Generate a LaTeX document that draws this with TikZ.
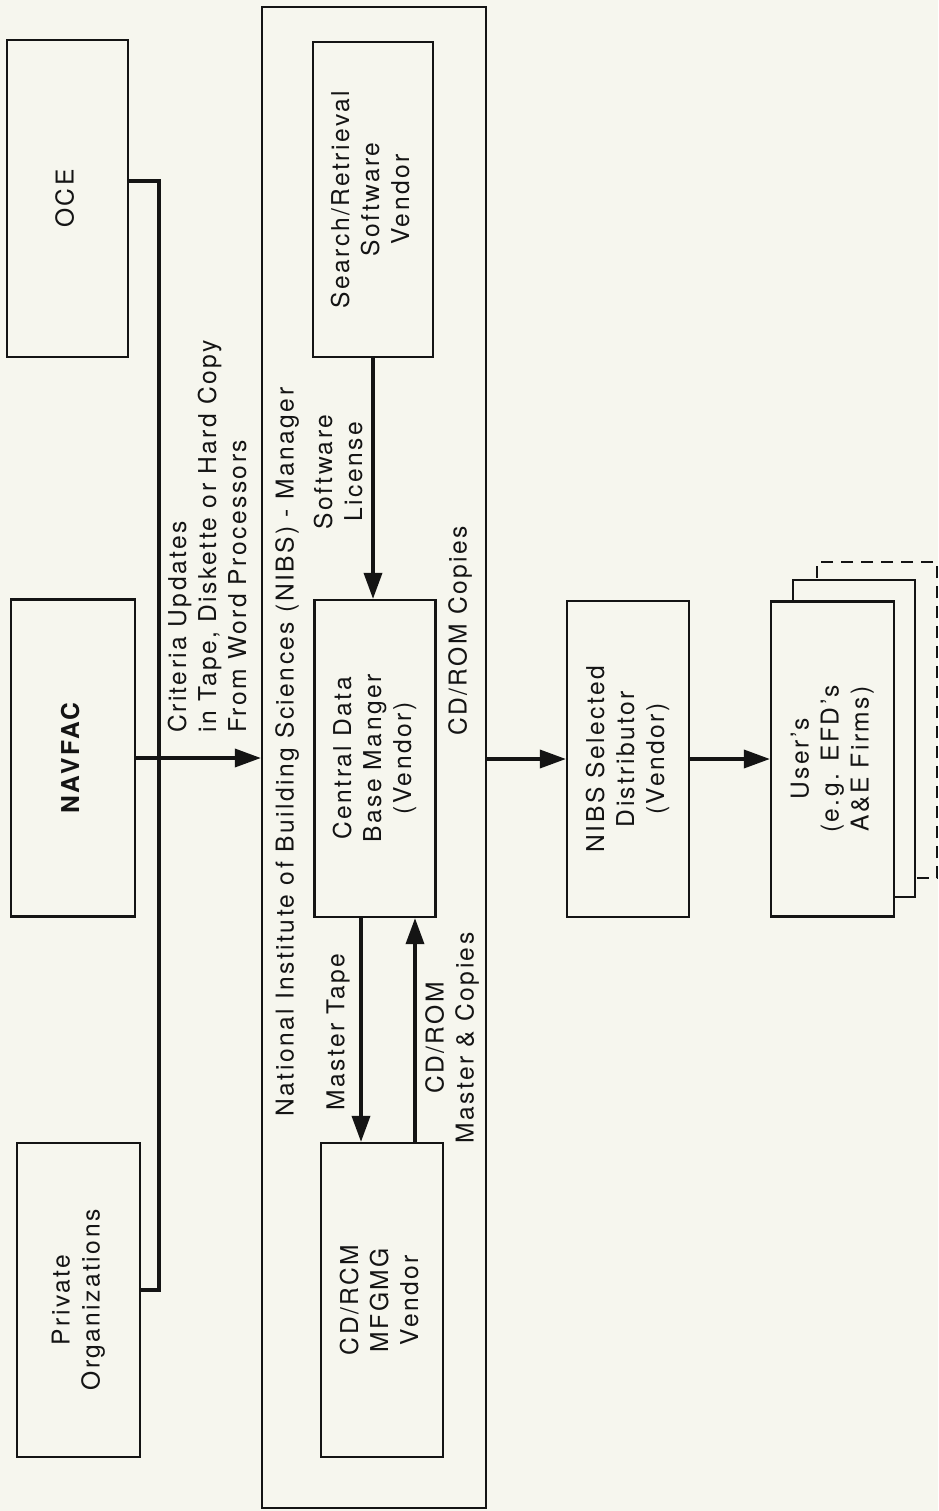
\documentclass[tikz,border=0pt]{standalone}
\usepackage{fontspec}
\usepackage{graphicx}
\setmainfont{TeX Gyre Heros}[LetterSpace=10]
\usetikzlibrary{arrows.meta}
\definecolor{paper}{RGB}{246,246,238}
\definecolor{ink}{RGB}{20,20,20}
\newcommand\rotlbl[1]{\rotatebox{90}{\begin{tabular}{@{}c@{}}#1\end{tabular}}}
\begin{document}
\begin{tikzpicture}[x=1pt,y=-1pt,
  every node/.style={font=\fontsize{24.6}{30}\selectfont, text=ink},
  box/.style={draw=ink, line width=2.2pt, fill=paper, inner sep=0pt},
  lbl/.style={rotate=90, inner sep=0pt},
  conn/.style={draw=ink, line width=3.5pt},
  arr/.style={conn, -{Triangle[length=26pt,width=18pt]}}]
\fill[paper] (0,0) rectangle (938,1511);
\useasboundingbox (0,0) rectangle (938,1511);
% left column
\node[box, minimum width=121pt, minimum height=317pt] (oce) at (67.5,198.5) {\rotlbl{OCE}};
\node[box, minimum width=124pt, minimum height=317pt] (navfac) at (73,758) {\rotlbl{\bfseries NAVFAC}};
\node[box, minimum width=123pt, minimum height=314pt] (priv) at (78.5,1300) {\rotlbl{Private\\Organizations}};
% NIBS frame
\node[box, fill=none, minimum width=224pt, minimum height=1501pt] (nibs) at (374,757.5) {};
\node[box, minimum width=120pt, minimum height=315pt] (sr) at (373,199.5) {\rotlbl{Search/Retrieval\\Software\\Vendor}};
\node[box, minimum width=121pt, minimum height=317pt] (cdb) at (375,758.5) {\rotlbl{Central Data\\Base Manger\\(Vendor)}};
\node[box, minimum width=122pt, minimum height=314pt] (mfg) at (382,1300) {\rotlbl{CD/RCM\\MFGMG\\Vendor}};
% right
\node[box, minimum width=122pt, minimum height=316pt] (dist) at (628,759) {\rotlbl{NIBS Selected\\Distributor\\(Vendor)}};
\node[box, dashed, dash pattern=on 12pt off 8pt, fill=none, minimum width=120pt, minimum height=316pt] (back2) at (877,720) {};
\node[box, minimum width=122pt, minimum height=317pt] (back1) at (854,738.5) {};
\node[box, minimum width=123pt, minimum height=315pt] (users) at (832.5,759) {\rotlbl{User's\\(e.g. EFD's\\A\&E Firms)}};
% connectors
\coordinate (tt) at (159,181);
\coordinate (tb) at (159,1290);
\draw[conn] ([yshift=17.5pt]oce.east) -- (tt) -- (tb) -- ([yshift=10pt]priv.east);
\draw[arr] (navfac.east) -- (navfac.east -| nibs.west);
\draw[arr] (sr.south) -- (sr.south |- cdb.north);
\draw[arr] ([xshift=-14pt]cdb.south) -- ([xshift=-14pt]cdb.south |- mfg.north);
\draw[arr] ([xshift=40pt]cdb.south |- mfg.north) -- ([xshift=40pt]cdb.south);
\draw[arr] (nibs.east |- dist.west) -- (dist.west);
\draw[arr] (dist.east) -- (dist.east -| users.west);
% labels
\node[lbl, anchor=west, align=left] (crit) at (207,733) {Criteria Updates\\in Tape, Diskette or Hard Copy\\From Word Processors};
\node[lbl] (nibslbl) at (287,752) {National Institute of Building Sciences (NIBS) - Manager};
\node[lbl, align=center] (swl) at (338,472) {Software\\License};
\node[lbl] (mt) at (338,1032) {Master Tape};
\node[lbl, align=center] (cdm) at (452,1038) {CD/ROM\\Master \& Copies};
\node[lbl] (cdc) at (460,631) {CD/ROM Copies};
\end{tikzpicture}
\end{document}
